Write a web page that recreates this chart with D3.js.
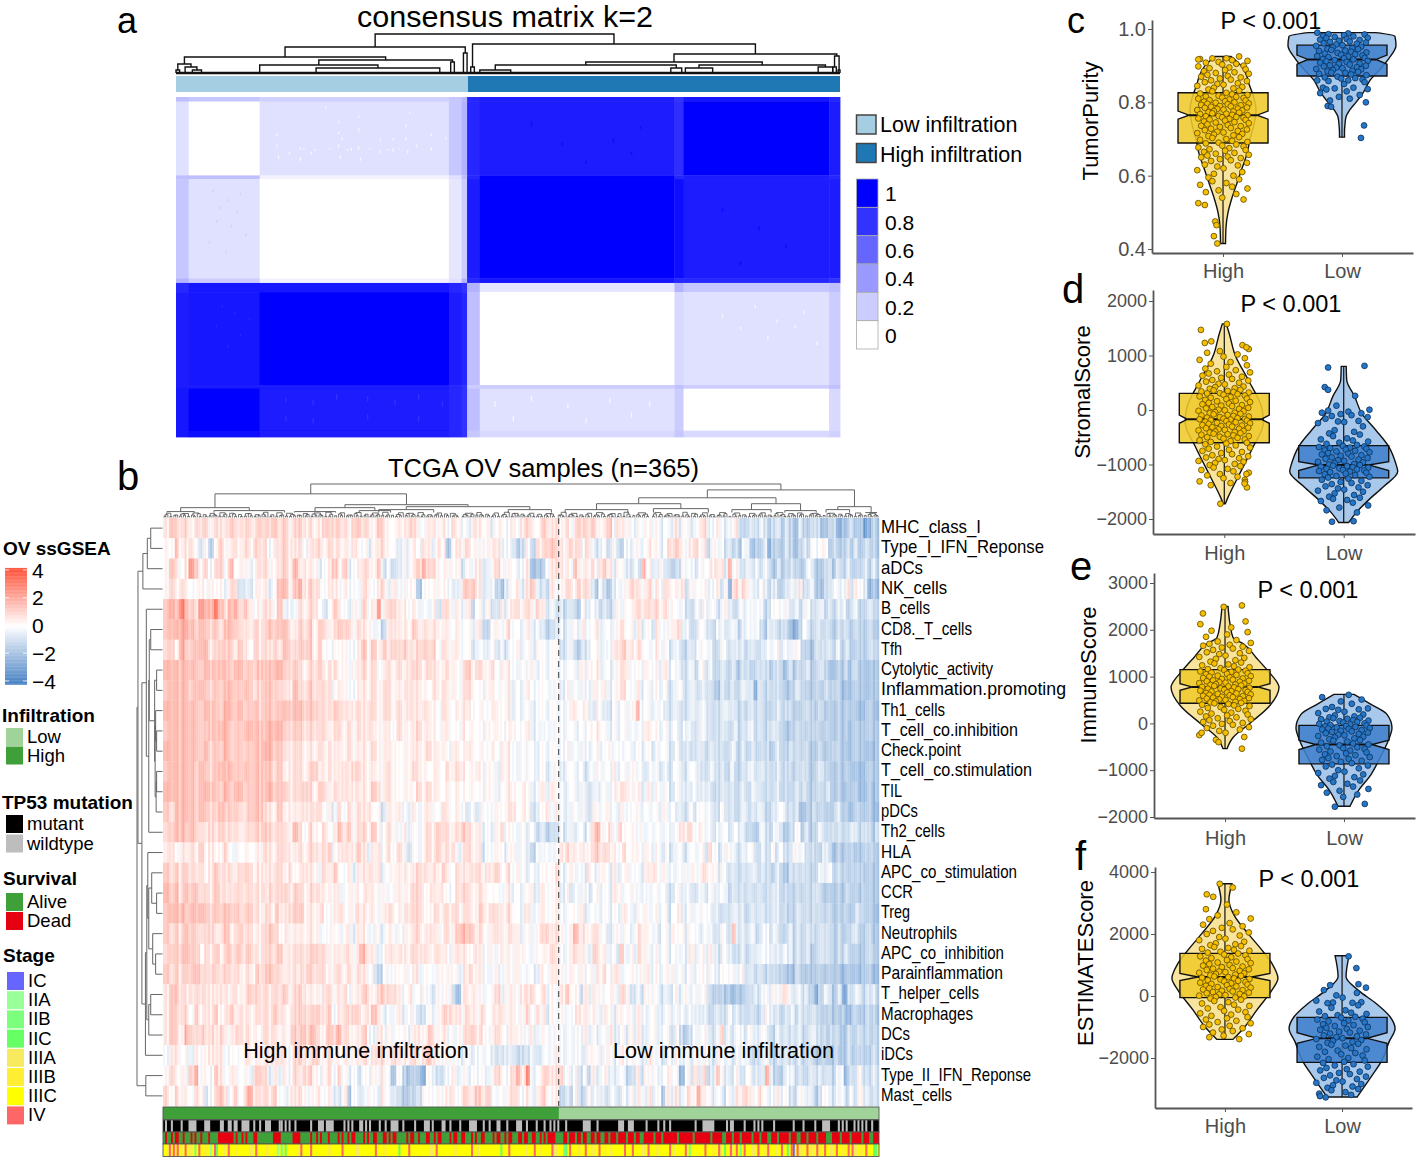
<!DOCTYPE html>
<html><head><meta charset="utf-8">
<script src="https://cdnjs.cloudflare.com/ajax/libs/d3/7.8.5/d3.min.js"></script>
<style>html,body{margin:0;padding:0;background:#fff}svg{display:block;font-family:"Liberation Sans",Arial,sans-serif}</style>
</head><body><svg id="c" width="1418" height="1159"></svg>
<script>
/* ---------- panel a: consensus matrix ---------- */
const consensusColBreaks=[0,7,46,150,157,160,167,274,279,359,365];
const consensusRowBreaks=[0,5,86,90,199,204,214,316,320,366,373];
const consensusValues=[
[.25,.22,.18,.22,.28,.85,.88,.80,.92,.85],
[.12,0,.12,.22,.30,.85,.90,.82,1,.88],
[.25,.25,.05,.12,.25,.85,.98,.85,.88,.85],
[.22,.12,0,.10,.20,.90,1,.95,.90,.88],
[.30,.20,.05,.12,.30,.85,.92,.85,.85,.80],
[.85,.92,.92,.85,.80,.30,.10,.30,.22,.25],
[.88,.92,1,.90,.85,.25,0,.15,.12,.20],
[.90,.90,.90,.85,.80,.20,.20,.25,.20,.25],
[.92,1,.90,.85,.80,.25,.12,.20,0,.15],
[.92,.95,.90,.85,.80,.22,.15,.22,.15,.18]];
const consensusSpecks=[
[55,40,43,.04],[55,52,55,.04],[56,64,68,.04],[62,60,63,.04],[68,55,58,.04],[68,66,70,.04],[74,60,63,.04],[82,10,13,.05],[89,26,29,.04],[89,38,41,.04],[89,52,56,.04],[90,64,68,.04],
[91,44,47,.04],[96,56,59,.04],[100,20,23,.05],[100,34,38,.04],[100,54,58,.04],[101,66,70,.04],[112,46,49,.04],[112,58,62,.04],[119,45,48,.04],[119,56,60,.04],[126,30,33,.04],[126,44,48,.04],[127,58,62,.04],[128,16,19,.05],
[132,52,55,.04],[140,40,43,.04],[140,55,59,.04],[148,44,47,.05],
[70,56,58,.05],[76,57,59,.05],[84,56,58,.05],[94,57,59,.05],[106,56,58,.05],[116,57,59,.05],[122,56,58,.05],
[20,102,105,.18],[28,112,115,.18],[24,120,123,.18],[35,105,108,.18],[30,140,143,.18],[38,150,153,.18],[22,135,138,.18],[33,125,128,.18],[18,158,161,.18],[27,168,171,.18],
[60,330,335,.8],[60,350,356,.8],[75,332,338,.8],[75,352,358,.8],[88,326,332,.8],[105,328,334,.8],[105,348,354,.8],[120,332,338,.8],[133,326,332,.8],[133,350,356,.8],[146,334,340,.8],
[25,228,231,.84],[32,235,238,.84],[40,242,245,.84],[22,250,253,.84],[35,260,263,.84],[28,272,275,.84],
[195,28,32,.96],[212,50,53,.96],[240,46,50,.96],[255,32,35,.96],[300,122,126,.96],[320,142,146,.96],[335,162,166,.96],[225,70,73,.96],[250,60,63,.96],[310,180,184,.96],
[175,334,340,.04],[195,328,334,.04],[215,336,342,.04],[238,330,336,.04],[260,334,340,.04],[185,350,356,.04],[225,352,358,.04],[250,346,352,.04],
[300,238,242,.04],[318,228,232,.04],[330,244,248,.04],[345,234,238,.04],[310,252,255,.04],[325,262,266,.04],[340,250,254,.04],[352,268,272,.04]];
const consensusTree=[39,[26,[16,[9,[3,0,2],[6,5,[3,9,14]]],[13,[8,46,[5,77,145]],[11,151,153]]],[20,158,160]],
 [29,[6,162,164],[19,[11,[8,[3,167,184],[5,272,278]],[8,[5,280,295],[6,353,361]]],[17,[6,361,363],[3,364,365]]]]];
const consensusGroups=[{name:"Low infiltration",from:0,to:160.5,color:"#a6cee3"},{name:"High infiltration",from:160.5,to:365,color:"#1f78b4"}];
const consensusLegendValues=[1,.8,.6,.4,.2,0];

/* ---------- panel b: heatmap (row levels are read in runs, | splits High from Low) ---------- */
const heatRowLabels=["MHC_class_I","Type_I_IFN_Reponse","aDCs","NK_cells","B_cells","CD8._T_cells","Tfh","Cytolytic_activity","Inflammation.promoting","Th1_cells","T_cell_co.inhibition","Check.point","T_cell_co.stimulation","TIL","pDCs","Th2_cells","HLA","APC_co_stimulation","CCR","Treg","Neutrophils","APC_co_inhibition","Parainflammation","T_helper_cells","Macrophages","DCs","iDCs","Type_II_IFN_Reponse","Mast_cells"];
const heatLabelRightEnds=[981,1044,923,947,930,972,902,993,1066,945,1018,961,1032,902,918,945,911,1017,913,910,957,1004,1003,979,973,910,913,1031,952];
const heatLevels={0:0,1:.4,2:.8,3:1.2,4:1.6,5:2,6:2.5,7:3,8:3.5,9:4,a:-.4,b:-.8,c:-1.2,d:-1.6,e:-2,f:-2.5,g:-3,h:-3.5};
const heatRows=[
"2322312231 2123223213 2332312322 1232322133 2213210122 2101211021 0a1201a010 1022103212|1201332321 1302110a01 0a1a0a1a10 a012a010aa 1bccbbacdb bdbcebcdcb eecbfdebed gfdd",
"1031220b1c 0211213122 2012321201 2312211120 0a11210b1a 1021a20d02 1201a121a0 bdb0c22332|2131202aba 0c1bd0a1a0 101a02231a 2301c1a0bb cd0aecdbfc ddbcedac00 10dbdccdbd bcdd",
"1310263130 2204011a02 2102314121 1a01403a01 2213b0cb1a 1352310101 b0a2ba1201 0a01edd012|2103111202 31a10ab0c5 0ba1bcdb1a 0b0a0212a4 0abab0cabd bdcbcec0bd dcbdbcbcdc adbc",
"1202100101 00a22bab01 1a04413523 22012a100a 21012a1a10 0d001100ba 3332ba0dea 02a13abc1a|1220322bd0 cea0a13211 2a2021012c 1000a01b1f 2131aa0bca dcb0a1bbad ecb0a01b10 afee",
"3537432645 7414524101 2103a0a212 20b0310b1a 2016123120 1a0a1b22a1 b1c0a1cb1a 2212131bac|acbcd0a0bc bcb1a01222 2221210a0b c0b0a0ba1a c0b0a0acb0 a01baca0bb acbcb0dbac cbbc",
"3445543433 3234322132 2333421323 1321233212 11a0c12121 3121211101 a0a1bc01a2 00a1a0bdcb|0ba0a1001a a0a1201a1a 0b10a112a0 cb0abc0aba acb0a0cdab dbbefc0bcb cbcdcbcdcc dccd",
"2305334442 2323132032 2131432333 1300001a01 3131313242 1232302111 a0ba0a0bab 01a0a10a00|bbacdba00a a0123121 20a01a0bab cbb0a0aca0 bbabcbbcb0 a0b0a10cdeb cbbcacbddc dcbc",
"4444444344 3433443334 3344333212 2312201a11 2120121212 2212211210 1312212011 0a0a1a0a0a|0a0a10101a 0a12100010 0a1a0abb ac0bacbbcb dcbdbcbdcc ebdccbdcbc eddcecdd edd",
"3444434433 3334334323 3332224223 2222011a01 1121221122 1110212110 1210011001 a0a10000a0|a0a0a0a101 a012001a0a 0a0ba0bbac bbcdbcbcba bfbcbcccdc bcddcdbdcd eedd dedd",
"4444444344 3344343343 3333444433 3222322122 1221221212 1121102101 1100101101 a0a0a00a0a|0a1101ab0b b0a0a1400a a0bbabbbab abcbbabbcc bcbcccbcbc dcccdcdddd ddde edde",
"3444444334 3443334444 3444333322 2221221212 1211110211 1211101100 1010010100 1001a0a0a0|0a0a001010 a0a0a0a011 0a0a0b0abb abcbbbcacb acbcbbccdc ccdccdcddd dedd dddd",
"4444444343 3343333344 4433222211 1212111211 1121111011 1112111011 0110101011 0a0a0a0a0a|00a0a0a0a0 1a0a0a0a0b a0ab0bacbb cbbbcbacbc bccbdbccbc ccddcddcdd edddeed",
"3444443433 3434334344 3323122212 3112112132 1111121011 2110110212 1011010a11 0a0a0a0ba0|aa0a0b0a0a 01a0a1a0b0 abab0aba0b cbabbcaccb abbbbcbcbc cbcdcbcddd ddee eddd",
"4444443444 3343443344 3433322232 1321212121 1132121011 0212110101 0010010a01 1010a01a10|0b0aa0bab0 a0121101a1 a0a0b0aab0 bbacbbbbcb bcabcbcbcb cbcbdcccbd ddeddeed ed",
"3244443433 2423322344 2113121121 2201a20212 1201b1110a 1a11002101 ab0b10a101 2010ba02a1|0ba0a0b1 a010a1a01a 0a0a1a0bab 0b0a0bb0bb cbacbabcbb 0bbbeedbdc ddbcdedcdd ee",
"2344343213 1312212233 3222214202 1020142312 2131021a2a 0a12132212 3211a0b120 0a0b0cbdcc|0bab0b02 4103a3001a 1a0a0a0a02 2201a0b0a0 b0abcddabc abdcb0dbdc abcbcbcabc bcdb",
"1201121302 0120a01011 2112221212 2123012123 1a1202021b 0a1213122a 1211b0a10a 1a0bc0a0a0|2211111232 2210201101 0a0b0ba0ba 0a0b20ba1a bba0bcab0c 0bb1a0cbcd aced ddce dcdcd",
"3232322202 3212123212 1122130121 1a213001a1 1212a01121 1221213102 1122121302 010b0a0102|0a1a0a20b1 0a1a0100a1 1201a0a01a 1a1201a0bb bcbbacbbdb cdbbcbccca a0cccdcdcd ddd",
"4342434222 3212222222 1222323212 21111a0110 2101a01112 2202120022 2112100a1a 0a01a1001|a0b0a0b0 a0a11a01a0 a0a0bb0a0b bab0a0acbb cbcbcbbbcb cccccbcddd ddcd dcddd",
"3444344433 3333323321 2131233311 1201120121 1101120122 2201212221 2113122121 0a1a01001|0a001a0a a0a0a10a01 a0a0b01a0a 0a0bacbbab cbbbbbbcbc cbccbcccdd cddb cdde",
"3232433223 1231232212 2320211111 1a010a1a11 0a1a01a011 2112102134 3312012112 1a0a12312|1a1412121 0ba1a0a021 0ab0a101a0 0b0aba0b3a bbacb0bacc acbcbbcb bcdcd cbcdcdd",
"2333433022 3132323212 2231222223 2211121142 1a01212121 2112101210 2101a11011 0a10121|0a1211a3 11a0b3a1a2 1a0a0a0a0a 1a0a1ab0 acbbcbaa0a bb0acbcbdc bbcdcbcddd ccd",
"3232334223 2222212132 3321221232 2211212121 0bc0a10101 a00a1010a1 2110a1a101 0a0a1011|1a10101a1 2012a01a1 1a0a01a0a0 a00a0a000a 0bbc bcbcdcde cdedddddde edee ddee",
"2332222222 1121212322 2222312321 1122112011 3212332101 a01ab1a1ce 2111a012a1 1021202a0a|2310b1a11 a01a21bab 1a0bab0a1a 0a0bcdcdee dccabaa1a2 1babadfcabd afcbacbbc",
"2322303122 3023122112 2232122332 3323012332 1241a0a1a0 abb0a12312 1211202121 1012021b0a|1a012101 a10a101a10 a0aa0aa0b0 abbcbbb0bb bcbcb0abcb acbbcbcdcd dcfcdd cdd",
"2321532323 1211322102 2211132434 2133422113 0a101a01b1 2131110a12 3220121011 1a1a10a0|0a0a01a0a 0a1a0a1a1a a0a00b0bdb 0a0aba3aba 0b0aa0bcab bbbbcbabcd bcddcdbc cdc",
"01100a1012 1100002101 1212102321 3212101111 2121212121 212321a1a0 a0b0a0acba bcbcaba0a1|0a0a0b10 1a1a01010a a1a0b0a0a0 a1a0ab10ab a0acbbabcb bbcbcbcdcd dcddcdcc dcc",
"1201035010 3101101a23 2a1a102133 1012020a0c 001a10e0ce ddf0abc01a 1a000a1210 2526a02312|30a0b0c1 a01ba0acb1 b1a0a010ae 0a2b2ca31a b0ab0bab4a cdb0acbcbb acbca0ebc1 bcbb",
"30211021b0 2320303512 2230a2121a 1201ac1d0b a10b10bcdd db1001a210 3214130a01 2201a13101|cbc0bc1b 0acb0b0a1a 1a1b0d1a 1a02 15101a 0b0a12 3103 0a01a 0bca1 abdb0a ba0d0c1 abcb"];
/* per-sample column effects: fine stripes that run through neighbouring rows */
const sampleEffectImmune="..+.-..+=.#..-.+.-.. .+..=.+..-.#.+.-..+. .-.+..-.+=..+.#.-.+. +..-.=.+..+.-..#.-.. .+.-..=+.+..-.+..=.+ ..#.-.+..-.=.+.+.-.. +.=..-.+.#..-.+..-+. .-..+.=..+.-.#..+.-. .+.=.-..+..-+.=.#.-. ..-.+.+..=.-.+..-.+. +.-.=.#..+.-..+=.-.. .#.-.+..=.+.-..+..-. -.+.=..+.-.#.-..+.=. ..+.-.=.+..-.+.#.-.+ .-.=.+..-.+..=.#.-.. +.-..+.=.-.+.#..-.=. .=.+.-..+.=.-.+..-.+ ..-.#.=.+.-..+.=.-.. +.=.-.";
const sampleEffectOther="-.=.+.#.-..+=..-.+.- +.-.=..+.#.-.=.+..-. .=.+.-.#..-.+.=..+.- .+.-=..#.+.-.=.+.-.. =.-.+..=.#.-.+.=.-.+ .-.+.=.-.+.#.=.-..+. +.=.-.#.+..=.-.+.-.= .-.#.=.+..-.=.+.-.+. =.+.-..=.+.#.-.=.+.. .-.=.#.+.-..=.+.-.#. +.-.=.+.-.#..=.+.-.+ .=.-.+..#.=.-.+.=.-. -.+.=.-.#.+.-.=..+.- .#.=.-.+.=.-..+.#.-. =.+.-.=.+.-.#.=.-..+ .-.=.+.#.-.=.+.-.+.= +.-.#.=.-.+..=.-.+.. .=.+.-.=.#.-.+.-.=.+ -.#.=.";
const sampleEffectLevels={".":0,"+":.25,"-":-.3,"=":-.6,"#":.5};
const immuneEffectRows=[4,22];
const heatSampleCount=365, heatSplitSample=201.7;
const heatColTree=[34,
 [24,[10,[6,2,16],[7,26,62]],[13,[10,[6,67,88],[7,100,116]],[11,[8,110,138],[8,176,198]]]],
 [28,[20,[14,[8,205,237],[9,250,278]],[14,[8,290,310],[7,317,333]]],[11,[8,338,350],[5,358,364]]]];
const combGroupPattern=[2,1,2,2,1,2,2,2,1,2,1];
const combHeightsA=[1.2,1.8,.9,2.2,1.4,1.6,2.4,1.1,1.9,1.3,2,1,1.5];
const combHeightsB=[2.8,3.3,2.6,3.6,3,2.5,3.9,2.9,3.4,2.7];
const combHeightsC=[4.3,5,4,4.6,5.3,4.2,4.8];
const heatRowTree=[26,[25,[20,[15.5,[12,0,1],2],3],
 [21,[16.5,4,[14,[13.5,[12,5,6],[8,[6,7,8],[7.5,[7,9,[6,10,11]],[6.5,[6,12,13],14]]]],15]],
     [17.4,[16,[15,16,[14,[11,17,[6,18,19]],[10,20,[7,21,22]]]],[14,[12,23,24],25]],26]]],
 [17,27,28]];
const tp53WildRuns=[[1,1],[4,1],[9,1],[13,4],[21,3],[29,2],[33,2],[36,2],[40,4],[46,1],[49,1],[52,3],[59,1],[60,1],[62,1],[64,1],[67,1],[75,1],[79,3],[83,4],[92,1],[94,1],[96,1],[100,2],[103,1],[105,1],[110,1],[113,1],[116,4],[122,1],[128,1],[133,3],[137,1],[142,2],[146,1],[151,1],[156,4],[163,1],[166,1],[170,2],[175,1],[180,3],[185,1],[190,1],[194,1],[197,1],[199,1],[201,1],[205,1],[214,4],[221,1],[232,3],[237,3],[246,1],[252,1],[255,1],[258,1],[271,1],[275,6],[287,1],[289,2],[296,1],[301,1],[303,1],[305,1],[311,1],[321,1],[326,1],[332,1],[336,4],[344,1],[346,1],[348,1],[352,1],[354,1],[356,1],[358,1],[361,1]];
const aliveRuns=[[0,1],[2,2],[5,1],[8,2],[11,3],[15,1],[17,2],[20,3],[24,2],[26,2],[36,1],[38,2],[41,1],[43,3],[48,8],[60,6],[70,5],[76,2],[79,1],[81,3],[85,4],[90,1],[92,2],[95,1],[98,4],[103,1],[105,2],[109,3],[114,1],[116,1],[119,5],[125,1],[128,2],[131,3],[136,2],[139,1],[142,4],[147,1],[150,2],[154,3],[158,1],[160,2],[164,4],[169,1],[172,2],[175,1],[178,3],[183,1],[186,2],[190,2],[193,1],[195,1],[200,4],[206,1],[210,1],[213,1],[216,2],[220,1],[223,2],[227,1],[231,1],[236,1],[240,1],[243,2],[250,1],[254,1],[262,1],[270,1],[279,1],[285,2],[290,1],[294,1],[300,1],[304,1],[308,2],[313,1],[319,1],[323,2],[328,1],[333,1],[338,3],[345,1],[350,1],[356,1],[360,2]];
const stageSamples={
 IC:[321],
 IIA:[24,58],
 IIB:[16,60,204,268,294],
 IIC:[27,62,120,172,205,286,318,362,363],
 IIIA:[2,9,13,14,31,44,45,69,98,99,136,137,160,185,199,200,218,219,228,244,245,260,284,290,300,301,312,324,325,330,331,340,341,352,353],
 IIIB:[6,21,22,37,52,53,84,85,112,113,148,149,192,211,212,225,251,252,280,281,306,307,327,334,335,346,347,355,356],
 IV:[3,5,7,11,18,26,33,47,70,75,91,108,125,139,157,176,189,198,207,215,222,235,239,247,258,266,276,283,289,292,296,303,308,315,320,323,328,333,337,343,349,351,358]};
const stageOrder=["IC","IIA","IIB","IIC","IIIA","IIIB","IIIC","IV"];
const stageColors=["#6666ff","#99ff99","#7cff7c","#66ff66","#f8ea5e","#ffee33","#ffff00","#ff6666"];
const heatLegendTicks=[4,2,0,-2,-4];

/* ---------- panels c-f: violin plots ---------- */
const jitterPattern=[.62,-.41,.13,-.88,.35,.94,-.17,-.66,.51,-.03,.79,-.95,.24,-.52,.87,.08,-.73,.44,-.28,.99,-.6,.18,-.84,.68,-.12,.3,-.46,.92,-.7,.57,-.22,.02,-.99,.74,-.35,.4,-.56];
const cHigh=[.925,.92,.92,.918,.915,.913,.91,.908,.905,.903,.9,.898,.895,.893,.89,.888,.885,.882,.88,.878,.875,.872,.87,.868,.865,.862,.86,.858,.855,.852,.85,.848,.845,.842,.84,.838,.835,.832,.83,.826,.824,.822,.82,.818,.816,.815,.813,.812,.81,.808,.806,.805,.803,.802,.8,.799,.797,.796,.795,.793,.792,.79,.789,.788,.786,.785,.783,.782,.78,.779,.778,.776,.775,.773,.772,.77,.769,.768,.766,.765,.763,.762,.76,.759,.758,.756,.755,.753,.752,.75,.748,.746,.745,.743,.74,.738,.736,.735,.733,.73,.728,.726,.724,.722,.72,.718,.716,.714,.712,.71,.708,.705,.703,.7,.698,.695,.692,.69,.688,.685,.682,.68,.677,.675,.672,.67,.668,.665,.662,.66,.657,.655,.652,.65,.648,.645,.642,.64,.635,.63,.628,.625,.62,.615,.61,.605,.6,.595,.59,.585,.58,.575,.57,.565,.56,.555,.55,.54,.535,.525];
const cHighExtras=[[.52,-.7],[.475,-.3],[.465,-.25],[.435,-.35],[.415,-.22],[.917,-.95]];
const cLow=[.99,.988,.986,.985,.983,.981,.98,.978,.976,.975,.973,.971,.97,.968,.966,.965,.963,.961,.96,.958,.956,.954,.952,.95,.948,.946,.945,.943,.941,.94,.938,.936,.935,.933,.931,.93,.928,.926,.925,.923,.921,.92,.918,.917,.915,.913,.912,.91,.908,.906,.905,.903,.901,.9,.898,.896,.895,.893,.891,.89,.888,.886,.885,.883,.881,.88,.878,.876,.874,.87,.868,.866,.865,.862,.86,.86,.858,.855,.85,.84,.84,.838,.836,.835,.83,.825,.82,.815,.81,.805,.8];
const cLowExtras=[[.79,-.55],[.788,-.42],[.737,.85],[.703,.73]];
const dHigh=[1120,1080,1050,1020,980,950,920,880,850,820,790,760,730,710,690,670,650,630,610,590,570,550,540,520,500,480,470,450,430,420,400,390,370,360,350,340,330,320,310,305,290,280,265,250,240,225,210,200,185,170,160,145,130,120,105,90,80,70,55,40,30,20,5,-5,-15,-25,-40,-50,-60,-70,-80,-90,-100,-110,-120,-130,-140,-150,-160,-165,-170,-175,-185,-195,-205,-215,-225,-235,-245,-255,-265,-275,-285,-295,-305,-315,-325,-335,-345,-355,-365,-375,-385,-395,-405,-415,-425,-435,-445,-455,-465,-480,-490,-500,-510,-525,-540,-555,-570,-585,-600,-615,-630,-650,-670,-690,-710,-730,-750,-770,-790,-810,-830,-850,-870,-885,-900,-920,-935,-950,-970,-990,-1010,-1030,-1055,-1080,-1100,-1125,-1150,-1175,-1200,-1225,-1250,-1280,-1310,-1340,-1380,-1420];
const dHighExtras=[[1580,.1],[1470,-.9],[1260,-.5],[1230,-.75],[1190,.7],[1150,.85],[-1320,.8],[-1350,.78],[-1175,.85],[-1720,-.15]];
const dLow=[420,260,80,5,-10,-30,-50,-60,-75,-95,-110,-130,-160,-200,-210,-220,-240,-300,-370,-400,-430,-450,-480,-520,-540,-560,-580,-600,-620,-640,-660,-670,-680,-690,-700,-710,-725,-740,-750,-760,-775,-790,-800,-815,-830,-840,-855,-870,-880,-895,-910,-920,-935,-950,-960,-975,-990,-1000,-1010,-1020,-1030,-1040,-1050,-1060,-1070,-1080,-1090,-1100,-1110,-1120,-1130,-1140,-1150,-1165,-1180,-1195,-1210,-1225,-1240,-1260,-1280,-1300,-1320,-1340,-1360,-1380,-1400,-1420,-1440,-1460,-1480,-1500,-1530,-1560,-1590,-1610,-1630,-1650,-1670,-1700,-1750,-1790,-1840,-1880];
const dLowExtras=[[780,-.6],[810,.8],[370,-.6],[-2050,-.45],[-2040,.38]];
const eHigh=[2180,2120,2050,1980,1950,1900,1850,1780,1750,1720,1700,1680,1660,1640,1620,1600,1570,1550,1520,1500,1480,1450,1420,1400,1380,1350,1320,1300,1280,1260,1240,1220,1200,1180,1160,1150,1140,1125,1110,1100,1085,1070,1060,1050,1035,1020,1010,1000,985,970,960,950,935,920,910,900,890,880,870,860,850,840,830,820,810,800,790,780,770,760,750,740,730,720,710,700,690,680,670,660,650,640,630,620,610,600,590,580,570,560,550,540,530,520,510,500,490,480,470,460,450,440,430,415,400,385,370,350,330,310,290,270,250,230,210,190,170,150,130,110,90,70,50,30,10,-10,-30,-50,-80,-100,-130,-160,-200,-250,-290,-350];
const eHighExtras=[[2520,.65],[2490,-.05],[2350,-.85],[-200,-.9],[-400,-.25],[-540,.65]];
const eLow=[610,560,510,470,420,350,320,310,300,290,250,220,190,170,150,130,120,110,100,90,70,60,50,40,30,20,0,-10,-20,-35,-45,-55,-65,-75,-85,-100,-110,-120,-130,-145,-155,-170,-180,-195,-210,-225,-240,-255,-270,-285,-300,-320,-340,-355,-370,-390,-410,-430,-450,-470,-490,-510,-530,-545,-560,-580,-600,-620,-640,-660,-680,-700,-720,-740,-760,-780,-800,-820,-850,-880,-900,-920,-960,-1000,-1030,-1060,-1090,-1120,-1150,-1180,-1220,-1250,-1290,-1320,-1350,-1400,-1440,-1480,-1520,-1570];
const eLowExtras=[[-1780,-.35],[-1720,.8]];
const fHigh=[2950,2800,2700,2600,2500,2480,2350,2300,2250,2200,2150,2100,2050,2000,1950,1900,1850,1800,1750,1700,1670,1640,1610,1580,1550,1520,1490,1460,1430,1400,1370,1340,1310,1280,1250,1220,1190,1160,1140,1110,1080,1060,1030,1000,980,950,930,900,880,860,840,810,790,770,750,730,710,690,670,650,630,610,590,570,550,530,510,490,470,450,430,410,390,370,350,330,310,290,270,250,230,210,190,170,150,130,110,90,70,50,30,10,-10,-30,-50,-80,-120,-160,-200,-240,-280,-320,-360,-400,-440,-480,-520,-560,-600,-640,-680,-720,-760,-800,-840,-880,-920,-960,-1000,-1040,-1080,-1130,-1180,-1230];
const fHighExtras=[[3620,-.2],[3500,.3],[3280,-.7],[3200,-.45],[-1280,-.05],[-1330,-.6],[-1390,.55]];
const fLow=[350,270,190,100,20,-50,-150,-200,-210,-220,-230,-300,-380,-460,-500,-540,-580,-620,-650,-670,-700,-730,-760,-790,-820,-850,-880,-910,-940,-970,-1000,-1030,-1060,-1090,-1120,-1150,-1180,-1210,-1240,-1270,-1300,-1330,-1360,-1390,-1420,-1450,-1480,-1510,-1540,-1570,-1600,-1640,-1680,-1720,-1760,-1800,-1840,-1880,-1920,-1960,-2000,-2040,-2080,-2120,-2160,-2200,-2240,-2280,-2320,-2360,-2400,-2440,-2480,-2520,-2560,-2600,-2640,-2680,-2720,-2760,-2800,-2840,-2880,-2920,-2960,-3000,-3040,-3100,-3150,-3190];
const fLowExtras=[[1280,.25],[900,.55],[380,.63],[-3230,-.85],[-3270,-.63]];
/* density profiles: [score, density] */
const cHighViolin=[[.925,8],[.9,18],[.87,24],[.85,26],[.82,30],[.78,33],[.74,31],[.7,27],[.66,24],[.62,19],[.58,14],[.54,9],[.5,5],[.46,3],[.415,2.5]];
const cLowViolin=[[.99,34],[.98,53],[.955,54],[.92,47],[.89,38],[.86,28],[.83,22],[.8,14],[.78,8],[.76,4],[.74,3],[.72,2.5],[.705,2.5]];
const dHighViolin=[[1580,2],[1400,5],[1000,11],[550,24],[0,38],[-244,39],[-670,29],[-1220,14],[-1590,4],[-1720,1]];
const dLowViolin=[[800,2.5],[550,3],[245,11],[-60,18],[-366,32],[-670,45],[-977,52],[-1130,54],[-1404,40],[-1649,25],[-1893,12],[-2064,5]];
const eHighViolin=[[2500,3],[2120,5],[1836,8],[1690,19],[1410,31],[1120,43],[840,53],[780,54],[360,44],[5,25],[-300,8],[-540,2]];
const eLowViolin=[[620,10],[407,27],[193,43],[-93,48],[-380,44],[-736,36],[-1093,27],[-1450,14],[-1770,6]];
const fHighViolin=[[3620,7],[3100,4],[2560,10],[2020,23],[1480,37],[1050,47],[570,53],[190,47],[-450,32],[-990,20],[-1400,8]];
const fLowViolin=[[1300,7],[620,4],[190,16],[-240,34],[-670,48],[-1050,53],[-1480,47],[-2070,40],[-2610,29],[-3260,15]];
/* box stats: [q1, notchLow, median, notchHigh, q3] */
const cHighBox=[.689,.754,.765,.776,.826], cLowBox=[.872,.904,.917,.929,.956];
const dHighBox=[-600,-244,-170,-92,305], dLowBox=[-1245,-1110,-1008,-947,-653];
const eHighBox=[430,707,780,850,1150], eLowBox=[-864,-557,-450,-357,-43];
const fHighBox=[-54,495,613,731,1376], fLowBox=[-2140,-1527,-1365,-1183,-688];
const groupNames=["High","Low"];
const cTicks=[.4,.6,.8,1], dTicks=[-2000,-1000,0,1000,2000], eTicks=[-2000,-1000,0,1000,2000,3000], fTicks=[-2000,0,2000,4000];

/* ---------- drawing ---------- */
const svg=d3.select("#c");
const defs=svg.append("defs");
defs.append("filter").attr("id","soft").attr("x","-2%").attr("y","-2%").attr("width","104%").attr("height","104%")
  .append("feGaussianBlur").attr("stdDeviation",.65);
const txt=(g,x,y,s,size,o={})=>{const t=g.append("text").attr("x",x).attr("y",y).attr("font-size",size)
  .attr("fill",o.fill||"#000").attr("font-weight",o.bold?"bold":null).attr("text-anchor",o.anchor||"start").text(s);
  if(o.width)t.attr("textLength",o.width).attr("lengthAdjust","spacingAndGlyphs");return t;};

function drawTree(node,draw){ // nested [height,left,right]; numbers are leaves
  if(typeof node==="number")return {p:node,h:0};
  const a=drawTree(node[1],draw),b=drawTree(node[2],draw);
  draw(a,b,node[0]);
  return {p:(a.p+b.p)/2,h:node[0]};
}
/* panel letters and titles */
[["a",117,33,36],["b",117,490,40],["c",1067,33,36],["d",1062,303,40],["e",1070,580,40],["f",1075,870,40]].forEach(d=>txt(svg,d[1],d[2],d[0],d[3]));
txt(svg,357,27,"consensus matrix k=2",29,{width:296});
txt(svg,388,477,"TCGA OV samples (n=365)",25,{width:311});

/* panel a */
const cx=d3.scaleLinear([0,365],[176,840]), cy=d3.scaleLinear([0,373],[97,437]);
const blue=d3.scaleLinear([0,1],["#ffffff","#0000ff"]);
const gA=svg.append("g").attr("filter","url(#soft)");
consensusValues.forEach((row,r)=>gA.append("g").selectAll("rect").data(row).join("rect")
  .attr("x",(d,c)=>cx(consensusColBreaks[c])).attr("width",(d,c)=>cx(consensusColBreaks[c+1])-cx(consensusColBreaks[c])+.4)
  .attr("y",cy(consensusRowBreaks[r])).attr("height",cy(consensusRowBreaks[r+1])-cy(consensusRowBreaks[r])+.4)
  .attr("fill",d=>blue(d)));
gA.append("g").selectAll("rect").data(consensusSpecks).join("rect")
  .attr("x",d=>cx(d[0])).attr("width",1.4).attr("y",d=>cy(d[1])).attr("height",d=>cy(d[2])-cy(d[1])).attr("fill",d=>blue(d[3]));
svg.append("g").selectAll("rect").data(consensusGroups).join("rect")
  .attr("x",d=>cx(d.from)).attr("width",d=>cx(d.to)-cx(d.from)).attr("y",76).attr("height",16).attr("fill",d=>d.color);
const cTreeY=d3.scaleLinear([0,39],[73,34]);
const gCT=svg.append("g").attr("fill","none").attr("stroke","#111").attr("stroke-width",1.4);
drawTree(consensusTree,(a,b,h)=>gCT.append("path").attr("d",
  `M${cx(a.p)},${cTreeY(a.h)}V${cTreeY(h)}H${cx(b.p)}V${cTreeY(b.h)}`));
gCT.append("line").attr("x1",cx(0)).attr("x2",cx(365)).attr("y1",cTreeY(0)).attr("y2",cTreeY(0)).attr("stroke-width",2.4);
consensusGroups.forEach((d,i)=>{
  svg.append("rect").attr("x",856.5).attr("y",115+i*28.5).attr("width",19.5).attr("height",19).attr("fill",d.color).attr("stroke","#444").attr("stroke-width",1.5);
  txt(svg,880,132+i*29.5,d.name,21.5);
});
const legY=d3.scaleBand(consensusLegendValues,[179,349]);
svg.append("g").selectAll("rect").data(consensusLegendValues).join("rect")
  .attr("x",856.5).attr("width",21.5).attr("y",d=>legY(d)).attr("height",legY.bandwidth()).attr("fill",d=>blue(d)).attr("stroke","#aaa").attr("stroke-width",.8);
consensusLegendValues.forEach(d=>txt(svg,885,legY(d)+legY.bandwidth()/2+8,String(d),21));

/* panel b */
const hx=d3.scaleLinear([0,heatSampleCount],[163,879]);
const hy=d3.scaleBand(heatRowLabels,[518,1106]);
const heatColor=d3.scaleLinear([-4,0,4],["#4f86c6","#ffffff","#ff5a42"]).clamp(true);
const effectA=sampleEffectImmune.replace(/ /g,""), effectB=sampleEffectOther.replace(/ /g,"");
const gH=svg.append("g").attr("filter","url(#soft)");
heatRows.forEach((s,r)=>{
  const [l,h]=s.replace(/ /g,"").split("|");
  const fx=r>=immuneEffectRows[0]&&r<=immuneEffectRows[1]?effectA:effectB;
  const vals=d3.range(heatSampleCount).map(i=>{
    const left=i<heatSplitSample, part=left?l:h;
    const f=left?i/heatSplitSample:(i-heatSplitSample)/(heatSampleCount-heatSplitSample);
    return heatLevels[part[Math.min(part.length-1,Math.floor(Math.max(0,f)*part.length))]]+(sampleEffectLevels[fx[i]]||0);
  });
  gH.append("g").selectAll("rect").data(vals).join("rect")
    .attr("x",(d,i)=>hx(i)).attr("width",hx(1)-hx(0)+.25).attr("y",hy(heatRowLabels[r])).attr("height",hy.bandwidth()+.3)
    .attr("fill",d=>heatColor(d));
});
svg.append("line").attr("x1",hx(heatSplitSample)).attr("x2",hx(heatSplitSample)).attr("y1",518).attr("y2",1106)
  .attr("stroke","#555").attr("stroke-width",1.2).attr("stroke-dasharray","6 5");
heatRowLabels.forEach((l,i)=>txt(svg,881,hy(l)+hy.bandwidth()/2+5,l,18.4,{width:heatLabelRightEnds[i]-881}));
txt(svg,356,1058,"High immune infiltration",21.6,{anchor:"middle"});
txt(svg,723.5,1058,"Low immune infiltration",21.6,{anchor:"middle"});

/* heatmap dendrograms */
const hTreeY=d3.scaleLinear([0,34],[517.5,484]);
const gHT=svg.append("g").attr("fill","none").attr("stroke","#666").attr("stroke-width",1);
drawTree(heatColTree,(a,b,h)=>gHT.append("path").attr("d",
  `M${hx(a.p)},${hTreeY(a.h||5)}V${hTreeY(h)}H${hx(b.p)}V${hTreeY(b.h||5)}`));
const gComb=svg.append("g").attr("fill","none").attr("stroke","#444").attr("stroke-width",.75);
let combNodes=d3.range(heatSampleCount).map(i=>({p:i+.5,h:0}));
[combHeightsA,combHeightsB,combHeightsC].forEach(hs=>{
  const next=[];let i=0,k=0;
  while(i<combNodes.length){
    const g=combGroupPattern[k%combGroupPattern.length];
    if(g===2&&i+1<combNodes.length){
      const a=combNodes[i],b=combNodes[i+1],h=hs[k%hs.length];
      gComb.append("path").attr("d",`M${hx(a.p)},${hTreeY(a.h)}V${hTreeY(h)}H${hx(b.p)}V${hTreeY(b.h)}`);
      next.push({p:(a.p+b.p)/2,h});i+=2;
    }else{next.push(combNodes[i]);i+=1;}
    k++;
  }
  combNodes=next;
});
const rTreeX=d3.scaleLinear([0,26],[162.5,137]);
const rowC=i=>hy(heatRowLabels[i])+hy.bandwidth()/2;
const rowCs=d3.scaleLinear([0,28],[rowC(0),rowC(28)]);
const gRT=svg.append("g").attr("fill","none").attr("stroke","#666").attr("stroke-width",1);
drawTree(heatRowTree,(a,b,h)=>gRT.append("path").attr("d",
  `M${rTreeX(a.h)},${rowCs(a.p)}H${rTreeX(h)}V${rowCs(b.p)}H${rTreeX(b.h)}`));

/* annotation strips */
const strip=(y,h,bg,runs,color)=>{
  svg.append("rect").attr("x",hx(0)).attr("y",y).attr("width",hx(365)-hx(0)).attr("height",h).attr("fill",bg);
  svg.append("g").selectAll("rect").data(runs).join("rect").attr("x",d=>hx(d[0])).attr("width",d=>hx(d[1])-hx(0)+.1)
    .attr("y",y).attr("height",h).attr("fill",d=>d[2]||color);
  svg.append("rect").attr("x",hx(0)).attr("y",y).attr("width",hx(365)-hx(0)).attr("height",h).attr("fill","none").attr("stroke","#555").attr("stroke-width",.9);
};
strip(1107,12.5,"#a0d39a",[[0,heatSplitSample]],"#3f9f38");
strip(1120,12,"#000",tp53WildRuns,"#bdbdbd");
strip(1132,12,"#e60012",aliveRuns,"#3f9f38");
const stageRuns=[];stageOrder.forEach((k,i)=>(stageSamples[k]||[]).forEach(s=>stageRuns.push([s,1,stageColors[i]])));
strip(1144,12.5,"#ffff00",stageRuns);

/* heatmap legends */
const barY=d3.scaleLinear([4,-4],[570,681]);
svg.append("g").attr("filter","url(#soft)").selectAll("rect").data(d3.range(4.15,-4.2,-.1)).join("rect")
  .attr("x",5).attr("width",22).attr("y",d=>barY(d)).attr("height",barY(0)-barY(.1)+.3).attr("fill",d=>heatColor(d));
svg.append("g").selectAll("g").data(heatLegendTicks).join("g").each(function(d){
  const g=d3.select(this);
  g.append("path").attr("d",`M5,${barY(d)}h4M23,${barY(d)}h4`).attr("stroke","#fff").attr("stroke-width",.8);
  txt(g,32,barY(d)+7.5,d3.format("d")(d),21);
});
txt(svg,3,555,"OV ssGSEA",19,{bold:1});
const legendBlock=(title,tx,ty,x,items)=>{
  txt(svg,tx,ty,title,19,{bold:1});
  items.forEach(([name,col,y])=>{
    svg.append("rect").attr("x",x).attr("y",y).attr("width",17).attr("height",18).attr("fill",col);
    txt(svg,x+21,y+15,name,18.5);
  });
};
legendBlock("Infiltration",2,722,6,[["Low","#a0d39a",728],["High","#3f9f38",746.5]]);
legendBlock("TP53 mutation",2,809,6,[["mutant","#000",815],["wildtype","#bdbdbd",834.5]]);
legendBlock("Survival",3,885,6,[["Alive","#3f9f38",893],["Dead","#e60012",912]]);
legendBlock("Stage",3,962,7,stageOrder.map((s,i)=>[s,stageColors[i],972+i*19.2]));

/* violin panels */
const palette={High:{violin:"#f8e49c",box:"#efc92c",pt:"#f5bf00",ptS:"#5e4a00"},Low:{violin:"#a9c9ec",box:"#3f80cc",pt:"#2676c8",ptS:"#0e2f55"}};
const panels=[
 {title:"TumorPurity",ticks:cTicks,fmt:".1f",tickFont:20,tickA:[.4,249],tickB:[1,29],left:1152,right:1413,top:20,bottom:253,pad:7,
  titleX:1090,titleY:121,pX:1271,pY:29,High:{v:cHigh,e:cHighExtras,vi:cHighViolin,b:cHighBox,ins:11},Low:{v:cLow,e:cLowExtras,vi:cLowViolin,b:cLowBox,ins:11}},
 {title:"StromalScore",ticks:dTicks,fmt:"d",tickFont:18,tickA:[-2000,519],tickB:[2000,301],left:1153,right:1415,top:290,bottom:534,pad:8,
  titleX:1082,titleY:392,pX:1291,pY:312,High:{v:dHigh,e:dHighExtras,vi:dHighViolin,b:dHighBox,ins:8},Low:{v:dLow,e:dLowExtras,vi:dLowViolin,b:dLowBox,ins:20}},
 {title:"ImmuneScore",ticks:eTicks,fmt:"d",tickFont:18,tickA:[-2000,817],tickB:[3000,583],left:1154,right:1415,top:573,bottom:818,pad:9,
  titleX:1088,titleY:675,pX:1308,pY:598,High:{v:eHigh,e:eHighExtras,vi:eHighViolin,b:eHighBox,ins:12},Low:{v:eLow,e:eLowExtras,vi:eLowViolin,b:eLowBox,ins:17}},
 {title:"ESTIMATEScore",ticks:fTicks,fmt:"d",tickFont:18,tickA:[-2000,1058],tickB:[4000,872],left:1155,right:1412,top:867,bottom:1108,pad:7,
  titleX:1085,titleY:963,pX:1309,pY:887,High:{v:fHigh,e:fHighExtras,vi:fHighViolin,b:fHighBox,ins:18},Low:{v:fLow,e:fLowExtras,vi:fLowViolin,b:fLowBox,ins:20}}];
panels.forEach((p,pi)=>{
  const base=d3.scaleLinear([p.tickA[0],p.tickB[0]],[p.tickA[1],p.tickB[1]]);
  const y=d3.scaleLinear([base.invert(p.bottom),base.invert(p.top)],[p.bottom,p.top]);
  const x=d3.scalePoint(groupNames,[p.left,p.right]).padding(.597);
  const g=svg.append("g");
  const ax=g.append("g").attr("transform",`translate(0,${p.bottom})`).call(d3.axisBottom(x).tickSize(4).tickSizeOuter(0).tickPadding(p.pad));
  const ay=g.append("g").attr("transform",`translate(${p.left},0)`).call(d3.axisLeft(y).tickValues(p.ticks).tickFormat(d3.format(p.fmt)).tickSize(4).tickSizeOuter(0).tickPadding(2));
  [ax,ay].forEach(a=>{a.selectAll("path.domain").attr("stroke","#555").attr("stroke-width",1.8);
    a.selectAll(".tick line").attr("stroke","#555").attr("stroke-width",1);
    a.selectAll("text").attr("fill","#4d4d4d").attr("font-family",'"Liberation Sans",Arial,sans-serif');});
  ax.selectAll("text").attr("font-size",20);
  ay.selectAll("text").attr("font-size",p.tickFont);
  g.append("text").attr("transform",`translate(${p.titleX},${p.titleY}) rotate(-90)`).attr("text-anchor","middle").attr("dy",".35em").attr("font-size",22).text(p.title);
  txt(g,p.pX,p.pY,"P < 0.001",23.5,{anchor:"middle"});
  groupNames.forEach((name,gi)=>{
    const d=p[name], c=palette[name], cxp=x(name);
    const area=d3.area().y(e=>y(e[0])).x0(e=>cxp-e[1]).x1(e=>cxp+e[1]).curve(d3.curveMonotoneY);
    g.append("path").attr("d",area(d.vi)).attr("fill",c.violin).attr("stroke","#111").attr("stroke-width",1.4);
    const yr=d3.extent(d.vi,e=>e[0]);
    g.append("line").attr("x1",cxp).attr("x2",cxp).attr("y1",y(yr[0])).attr("y2",y(yr[1])).attr("stroke","#111").attr("stroke-width",1.2);
    const [q1,nl,m,nh,q3]=d.b, hw=45, ins=d.ins;
    const box=[[-hw,q3],[hw,q3],[hw,nh],[hw-ins,m],[hw,nl],[hw,q1],[-hw,q1],[-hw,nl],[-hw+ins,m],[-hw,nh]];
    g.append("path").attr("d",d3.line().x(e=>cxp+e[0]).y(e=>y(e[1])).curve(d3.curveLinearClosed)(box))
      .attr("fill",c.box).attr("fill-opacity",.88).attr("stroke","#111").attr("stroke-width",1.4);
    g.append("line").attr("x1",cxp-hw+ins).attr("x2",cxp+hw-ins).attr("y1",y(m)).attr("y2",y(m)).attr("stroke","#111").attr("stroke-width",2);
    const pts=d.v.map((v,i)=>[v,jitterPattern[(i+pi*5+gi*11)%jitterPattern.length]]).concat(d.e);
    g.append("g").selectAll("circle").data(pts).join("circle")
      .attr("cx",e=>cxp+e[1]*26).attr("cy",e=>y(e[0])).attr("r",2.9)
      .attr("fill",c.pt).attr("stroke",c.ptS).attr("stroke-width",.8);
  });
});
</script></body></html>
